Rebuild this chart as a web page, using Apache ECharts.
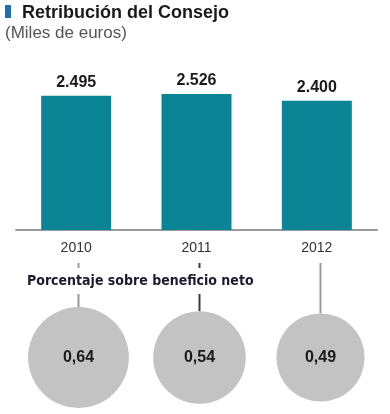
<!DOCTYPE html>
<html><head><meta charset="utf-8">
<script src="https://cdn.jsdelivr.net/npm/echarts@6/dist/echarts.min.js"></script>
<style>html,body{margin:0;padding:0;background:#fff}#c{width:390px;height:414px}</style>
</head><body><div id="c"></div>
<script>
var years = ['2010', '2011', '2012'];
var retribucion = [2495, 2526, 2400];
var porcentaje = [0.64, 0.54, 0.49];
var connectorColors = ['#9a9a9a', '#3a3a3a', '#9a9a9a'];

function miles(v) { return String(v).replace(/\B(?=(\d{3})+(?!\d))/g, '.'); }
function coma(v) { return v.toFixed(2).replace('.', ','); }

var chart = echarts.init(document.getElementById('c'), null, {renderer: 'canvas'});
var CIRCLE_K = 126;
chart.setOption({
  animation: false,
  title: [
    {text: 'Retribución del Consejo', left: 17, top: -1,
     textStyle: {fontFamily: 'Liberation Sans', fontWeight: 'bold', fontSize: 18, color: '#1a1a1a'}},
    {text: '(Miles de euros)', left: 0, top: 20,
     textStyle: {fontFamily: 'Liberation Sans', fontWeight: 'normal', fontSize: 17, color: '#555'}},
    {text: 'Porcentaje sobre beneficio neto', left: 24, top: 268, z: 10,
     backgroundColor: '#fff', padding: [5, 3],
     textStyle: {fontFamily: '"DejaVu Sans Condensed", sans-serif', fontWeight: 'bold', fontSize: 14, lineHeight: 16, color: '#1a1a2e'}}
  ],
  graphic: [{type: 'rect', shape: {x: 5, y: 5, width: 6, height: 13}, style: {fill: '#1f6fb5'}}],
  grid: [
    {left: 16, right: 13, top: 68.5, height: 161.5},
    {left: 18, right: 9, top: 263, height: 141.75}
  ],
  xAxis: [
    {type: 'category', gridIndex: 0, data: years,
     axisLine: {lineStyle: {color: '#9a9a9a', width: 2}}, axisTick: {show: false},
     axisLabel: {margin: 11, fontFamily: 'Liberation Sans', fontSize: 14, color: '#333'}},
    {type: 'category', gridIndex: 1, data: years, show: false}
  ],
  yAxis: [
    {type: 'value', gridIndex: 0, min: 0, max: 3000, show: false, splitLine: {show: false}},
    {type: 'value', gridIndex: 1, min: -0.5, max: 1, show: false, splitLine: {show: false}}
  ],
  series: [
    {type: 'bar', xAxisIndex: 0, yAxisIndex: 0, data: retribucion, barWidth: 70,
     itemStyle: {color: '#0b8596'},
     label: {show: true, position: 'top', distance: 5,
             formatter: function (p) { return miles(p.value); },
             fontFamily: 'Liberation Sans', fontWeight: 'bold', fontSize: 16, color: '#1a1a1a'}},
    {type: 'custom', xAxisIndex: 1, yAxisIndex: 1,
     data: porcentaje.map(function (v, i) { return [i, v]; }),
     renderItem: function (params, api) {
       var i = api.value(0), v = api.value(1);
       var c = api.coord([i, 0]);
       var top = api.coord([i, 1]);
       var r = Math.sqrt(v) * CIRCLE_K / 2;
       return {type: 'group', children: [
         {type: 'line', shape: {x1: c[0], y1: top[1], x2: c[0], y2: c[1] - r},
          style: {stroke: connectorColors[i], lineWidth: 2}},
         {type: 'circle', shape: {cx: c[0], cy: c[1], r: r}, style: {fill: '#c3c3c3'}},
         {type: 'text', style: {text: coma(v), x: c[0], y: c[1], align: 'center', verticalAlign: 'middle',
          font: 'bold 16px "Liberation Sans"', fill: '#1a1a1a'}}
       ]};
     }}
  ]
});
</script></body></html>
